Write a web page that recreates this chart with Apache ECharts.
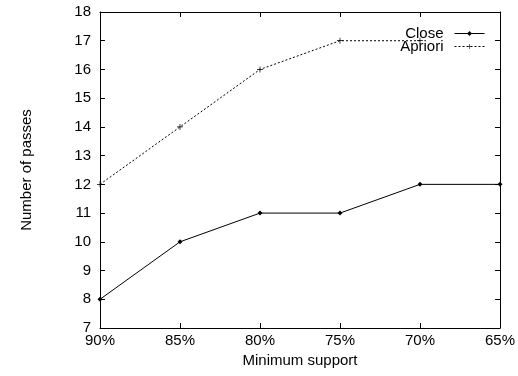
<!DOCTYPE html>
<html><head><meta charset="utf-8">
<script src="https://cdn.jsdelivr.net/npm/echarts@6/dist/echarts.min.js"></script>
<style>html,body{margin:0;padding:0;background:#fff}#c{width:518px;height:376px}</style>
</head><body><div id="c"></div>
<script>
var categories = ['90%','85%','80%','75%','70%','65%'];
var closeVals = [8,10,11,11,12,12];
var aprioriVals = [12,14,16,17,17,null];
var yTicks = {min:7, max:18, interval:1};

var font = 'Liberation Sans, Arial, sans-serif';
var fs = 15;
var chart = echarts.init(document.getElementById('c'));
var plusPath = 'path://M-0.12,-1H0.12V-0.12H1V0.12H0.12V1H-0.12V0.12H-1V-0.12H-0.12Z';
chart.setOption({
  animation:false,
  grid:{left:100,right:15,top:12,bottom:48},
  legend:{
    right:28, top:21, orient:'vertical', align:'right', itemGap:-2,
    itemWidth:30, itemHeight:6,
    lineStyle:{width:1},
    textStyle:{fontFamily:font,fontSize:fs,color:'#000',padding:[0,6,0,0]},
    data:['Close','Apriori']
  },
  xAxis:[{
    type:'category', data:categories, boundaryGap:false,
    name:'Minimum support', nameLocation:'middle', nameGap:24,
    nameTextStyle:{fontFamily:font,fontSize:fs,color:'#000'},
    axisLine:{lineStyle:{color:'#000',width:1}},
    axisTick:{inside:true,length:5,lineStyle:{color:'#000'}},
    axisLabel:{fontFamily:font,fontSize:fs,color:'#000',margin:5,showMaxLabel:true,showMinLabel:true},
    splitLine:{show:false}
  },{
    type:'category', data:categories, boundaryGap:false, position:'top',
    axisLine:{lineStyle:{color:'#000',width:1}},
    axisTick:{inside:true,length:5,lineStyle:{color:'#000'}},
    axisLabel:{show:false}, splitLine:{show:false}
  }],
  yAxis:[{
    type:'value', min:yTicks.min, max:yTicks.max, interval:yTicks.interval,
    name:'Number of passes', nameLocation:'middle', nameGap:66, nameRotate:90,
    nameTextStyle:{fontFamily:font,fontSize:fs,color:'#000'},
    axisLine:{show:true,lineStyle:{color:'#000',width:1}},
    axisTick:{show:true,inside:true,length:5,lineStyle:{color:'#000'}},
    axisLabel:{fontFamily:font,fontSize:fs,color:'#000',margin:9},
    splitLine:{show:false}
  },{
    type:'value', min:yTicks.min, max:yTicks.max, interval:yTicks.interval, position:'right',
    axisLine:{show:true,lineStyle:{color:'#000',width:1}},
    axisTick:{show:true,inside:true,length:5,lineStyle:{color:'#000'}},
    axisLabel:{show:false}, splitLine:{show:false}
  }],
  series:[{
    name:'Close', type:'line', data:closeVals,
    symbol:'diamond', symbolSize:5, showAllSymbol:true,
    lineStyle:{color:'#000',width:1}, itemStyle:{color:'#000'}
  },{
    name:'Apriori', type:'line', data:aprioriVals,
    symbol:plusPath, symbolSize:6, showAllSymbol:true,
    lineStyle:{color:'#000',width:1,type:[2,2]}, itemStyle:{color:'#000'}
  }]
});
</script></body></html>
